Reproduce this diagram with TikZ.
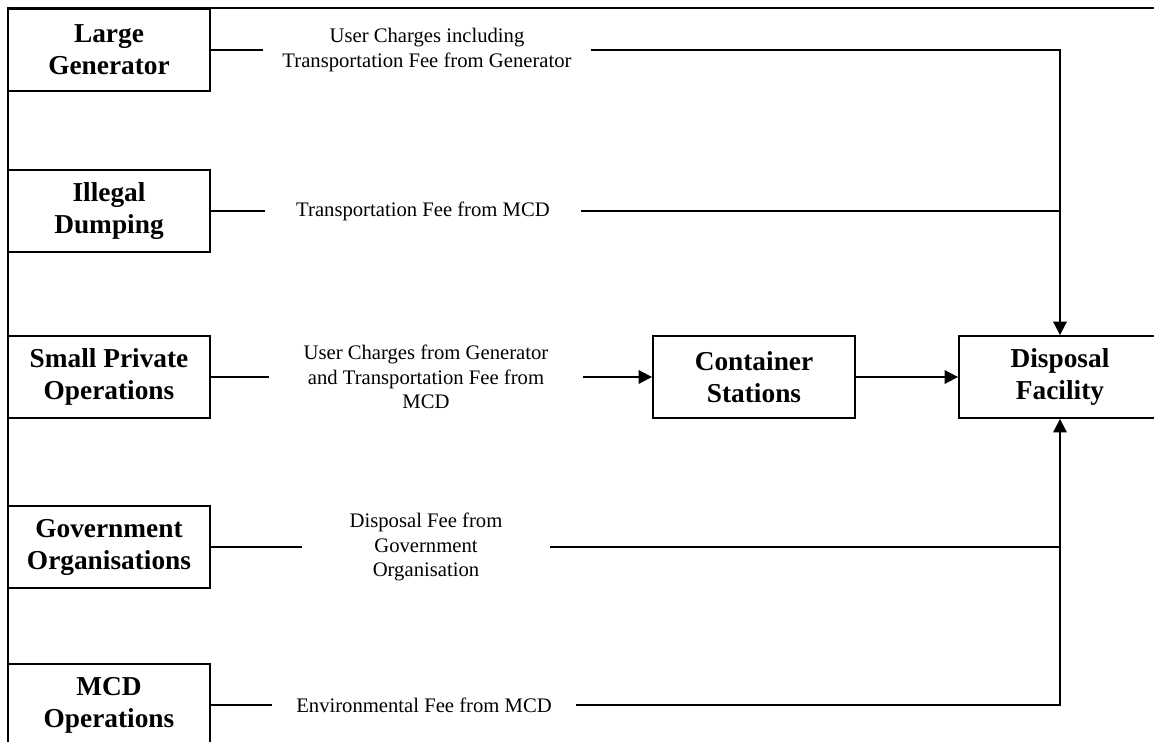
\documentclass[tikz,border=0pt]{standalone}
\usepackage{fontspec}
\setmainfont{Liberation Serif}
\usetikzlibrary{arrows.meta}
\begin{document}
\begin{tikzpicture}[x=0.75pt,y=-0.75pt,line width=1.4pt,
  box/.style={draw,align=center,minimum width=151.5pt,minimum height=61.5pt,inner sep=0pt,font=\fontsize{20.5}{24}\selectfont\bfseries},
  lbl/.style={align=center,inner sep=0pt,font=\fontsize{15.5}{18.5}\selectfont},
  tip/.style={-{Triangle[length=10pt,width=10pt]}}]
\useasboundingbox (0,0) rectangle (1154,742);
\clip (0,0) rectangle (1154,742);
\draw (8,742) -- (8,8) -- (1154,8);
% sources
\node [box] (lg) at (109,50) {Large\\Generator};
\node [box] (id) at (109,211) {Illegal\\Dumping};
\node [box] (sp) at (109,377) {Small Private\\Operations};
\node [box] (gov) at (109,547) {Government\\Organisations};
\node [box] (mcd) at (109,705) {MCD\\Operations};
\node [box] (cs) at (754,377) {Container\\Stations};
\node [box] (disp) at (1060,377) {Disposal\\Facility};
% fees
\node [lbl,minimum width=244pt] (lgtxt) at (427,50) {User Charges including\\Transportation Fee from Generator};
\node [lbl,minimum width=236pt] (idtxt) at (423,211) {Transportation Fee from MCD};
\node [lbl,minimum width=234pt] (sptxt) at (426,377) {User Charges from Generator\\and Transportation Fee from\\MCD};
\node [lbl,minimum width=185pt] (govtxt) at (426,547) {Disposal Fee from\\Government\\Organisation};
\node [lbl,minimum width=227pt] (mcdtxt) at (424,705) {Environmental Fee from MCD};
\foreach \a in {lg,id,sp,gov,mcd} \draw (\a) -- (\a txt);
\draw [tip] (lgtxt) -| (disp);
\draw (idtxt) -- (idtxt -| disp);
\draw [tip] (sptxt) -- (cs);
\draw [tip] (cs) -- (disp);
\draw [tip] (mcdtxt) -| (disp);
\draw (govtxt) -- (govtxt -| disp);
\end{tikzpicture}
\end{document}
